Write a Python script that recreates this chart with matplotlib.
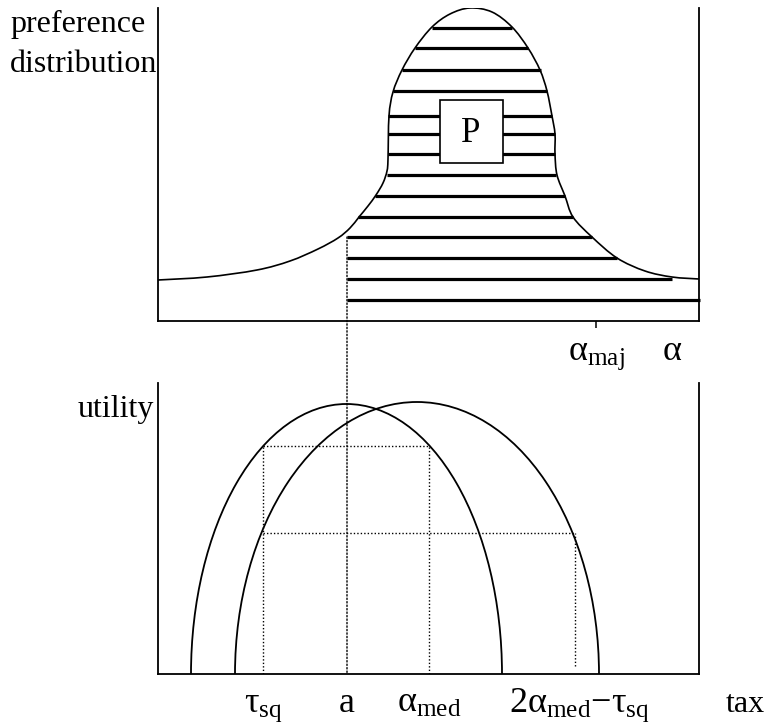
import matplotlib
matplotlib.use('Agg')
import matplotlib.pyplot as plt
from matplotlib.patches import Rectangle, ConnectionPatch, Arc, PathPatch
from matplotlib.path import Path

plt.rcParams['font.family'] = ['Liberation Serif', 'DejaVu Serif']
plt.rcParams['mathtext.fontset'] = 'custom'
plt.rcParams['mathtext.rm'] = 'Liberation Serif'
plt.rcParams['mathtext.it'] = 'Liberation Serif:italic'

# preference distribution (top panel)
dist_x = [0, 49, 99, 132, 160, 180, 192, 201, 210, 218, 225, 229, 230, 231, 235,
          244, 257, 274, 292, 312, 334, 354, 370, 382, 389, 394, 397, 397, 399,
          407, 415, 434, 459, 487, 514, 541]
dist_y = [41, 44, 51, 60, 72, 83, 93, 104, 115, 126, 138, 150, 162, 205, 229,
          251, 273, 294, 307, 313, 309, 294, 273, 251, 230, 205, 187, 167, 146,
          125, 104, 84, 63, 50, 44, 42]

# shading lines under the distribution
hatch_y = [293, 273, 251, 230, 205, 187, 167, 146, 125, 104, 84, 63, 42, 21]
hatch_left = [274, 257, 244, 235, 230, 230, 230, 229, 217, 200, 189, 189, 189, 189]
hatch_right = [354, 370, 383, 389, 394, 397, 397, 398, 407, 415, 434, 459, 514, 542]

# positions on the tax axis
a_pos = 189
tau_sq = 105
alpha_med = 271
mirror_pos = 417
alpha_maj = 438
alpha_pos = 514

# utility levels
level_high = 228
level_low = 141

# utility curves (bottom panel): centre, half width, peak height
util_center = [188.5, 259]
util_halfwidth = [155.5, 182]
util_peak = [270, 272]


def smooth_path(xs, ys):
    '''Build a smooth bezier path running through the given points'''
    pts = list(zip(xs, ys))
    verts = [pts[0]]
    codes = [Path.MOVETO]
    for i in range(len(pts) - 1):
        p0 = pts[i - 1] if i > 0 else pts[i]
        p1 = pts[i]
        p2 = pts[i + 1]
        p3 = pts[i + 2] if i + 2 < len(pts) else pts[i + 1]
        c1 = (p1[0] + (p2[0] - p0[0]) / 6, p1[1] + (p2[1] - p0[1]) / 6)
        c2 = (p2[0] - (p3[0] - p1[0]) / 6, p2[1] - (p3[1] - p1[1]) / 6)
        verts += [c1, c2, p2]
        codes += [Path.CURVE4] * 3
    return Path(verts, codes)


W, H = 767, 724
fig = plt.figure(figsize=(W / 100, H / 100), dpi=100)
ax_top = fig.add_axes([158 / W, (H - 321) / H, 541 / W, 313 / H])
ax_bot = fig.add_axes([158 / W, (H - 674) / H, 541 / W, 291 / H])

for ax, top in ((ax_top, 313), (ax_bot, 291)):
    ax.set_xlim(0, 541)
    ax.set_ylim(0, top)
    ax.spines['top'].set_visible(False)
    for s in ('left', 'right', 'bottom'):
        ax.spines[s].set_linewidth(1.3)
    ax.set_yticks([])
    ax.set_xticks([])

# top panel: distribution, shading and box P
ax_top.add_patch(PathPatch(smooth_path(dist_x, dist_y), facecolor='none',
                           edgecolor='black', lw=1.2, zorder=4))
for y, x0, x1 in zip(hatch_y, hatch_left, hatch_right):
    ax_top.plot([x0, x1], [y, y], color='black', lw=2.3,
                solid_capstyle='butt', zorder=2, clip_on=False)
ax_top.add_patch(Rectangle((282, 158), 63, 63, facecolor='white',
                           edgecolor='black', lw=1.2, zorder=3))
ax_top.text(313, 188, 'P', fontsize=25, ha='center', va='center', zorder=5)

ax_top.set_xticks([alpha_maj])
ax_top.set_xticklabels([])
ax_top.tick_params(axis='x', direction='out', length=5, width=1.1)

ax_top.text(alpha_maj, -39, r'$\mathrm{\alpha_{maj}}$', fontsize=26,
            ha='center', va='baseline', clip_on=False)
ax_top.text(alpha_pos, -39, r'$\mathrm{\alpha}$', fontsize=26,
            ha='center', va='baseline', clip_on=False)

# bottom panel: utility curves
for c, hw, pk in zip(util_center, util_halfwidth, util_peak):
    ax_bot.add_patch(Arc((c, 0), 2 * hw, 2 * pk, theta1=0, theta2=180,
                         color='black', lw=1.3))

dot = dict(color='black', lw=1.0, ls=(0, (1, 1.5)))
ax_bot.plot([tau_sq, alpha_med], [level_high, level_high], **dot)
ax_bot.plot([tau_sq, mirror_pos], [level_low, level_low], **dot)
ax_bot.plot([tau_sq, tau_sq], [0, level_high], **dot)
ax_bot.plot([alpha_med, alpha_med], [0, level_high], **dot)
ax_bot.plot([mirror_pos, mirror_pos], [8, level_low], **dot)

# dotted line linking the two panels at a
con = ConnectionPatch(xyA=(a_pos, 84), coordsA=ax_top.transData,
                      xyB=(a_pos, 0), coordsB=ax_bot.transData,
                      color='black', lw=1.0, ls=(0, (1, 1.5)))
fig.add_artist(con)

ax_bot.text(tau_sq, -38, r'$\mathrm{\tau_{sq}}$', fontsize=26,
            ha='center', va='baseline', clip_on=False)
ax_bot.text(a_pos, -38, r'$\mathrm{a}$', fontsize=26,
            ha='center', va='baseline', clip_on=False)
ax_bot.text(alpha_med, -38, r'$\mathrm{\alpha_{med}}$', fontsize=26,
            ha='center', va='baseline', clip_on=False)
ax_bot.text(mirror_pos + 4, -38, r'$\mathrm{2\alpha_{med}{-}\tau_{sq}}$', fontsize=26,
            ha='center', va='baseline', clip_on=False)
ax_bot.text(587, -38, 'tax', fontsize=23, ha='center', va='baseline', clip_on=False)

# axis titles
fig.text(10 / W, 1 - 32 / H, 'preference', fontsize=23, ha='left', va='baseline')
fig.text(10 / W, 1 - 72 / H, 'distribution', fontsize=23, ha='left', va='baseline')
fig.text(78 / W, 1 - 417 / H, 'utility', fontsize=23, ha='left', va='baseline')

fig.savefig('out.png', dpi=100)
